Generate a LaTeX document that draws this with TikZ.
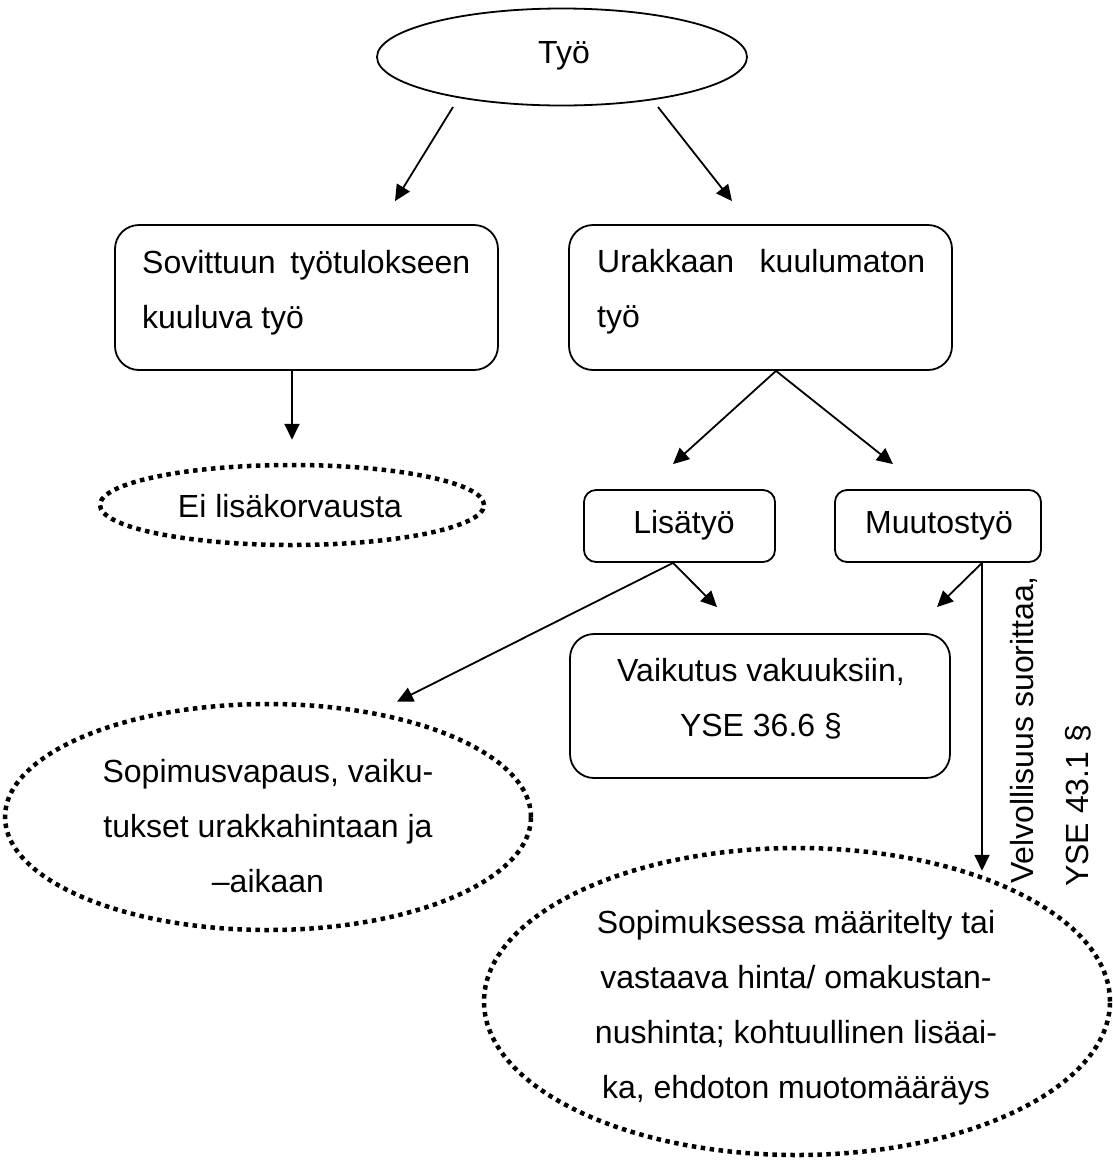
\documentclass[tikz,border=0pt]{standalone}
\usepackage{fontspec}
\setmainfont{Liberation Sans}
\usetikzlibrary{shapes.geometric,arrows.meta,calc}
\begin{document}
\begin{tikzpicture}[x=1pt,y=-1pt,
  every node/.style={inner sep=0pt},
  txt/.style={font=\fontsize{32}{55}\selectfont},
  lw/.style={line width=1.8pt},
  rbox/.style={draw, lw, rounded corners=24pt},
  sbox/.style={draw, lw, rounded corners=12pt},
  oval/.style={draw, lw, ellipse},
  dotoval/.style={draw, ellipse, line width=4.5pt, dash pattern=on 4.5pt off 4.5pt},
  arr/.style={lw, -{Triangle[length=16pt,width=15pt]}},
]
\useasboundingbox (0,0) rectangle (1113,1160);

% shapes
\node[oval, minimum width=370, minimum height=97] (tyo) at (562,57) {};
\node[rbox, minimum width=383, minimum height=145] (sov) at (306.5,297.5) {};
\node[rbox, minimum width=383, minimum height=145] (urak) at (760.5,297.5) {};
\node[dotoval, minimum width=384, minimum height=80] (ei) at (292,505) {};
\node[sbox, minimum width=191, minimum height=72] (lis) at (679.5,526) {};
\node[sbox, minimum width=206, minimum height=72] (muut) at (938,526) {};
\node[rbox, minimum width=380, minimum height=144] (vaik) at (760,706) {};
\node[dotoval, minimum width=526, minimum height=226] (vapaus) at (268,817) {};
\node[dotoval, minimum width=626, minimum height=307] (sopim) at (797,1001.5) {};

% texts (base anchor of a multi-line node = baseline of its last line)
\node[txt, anchor=base] (tyot) at (564,63) {Työ};
\node[txt, anchor=base west, align=left] (sovt) at (142,328)
  {\makebox[328pt][s]{Sovittuun työtulokseen}\\kuuluva työ};
\node[txt, anchor=base west, align=left] (urakt) at (597,327)
  {\makebox[328pt][s]{Urakkaan kuulumaton}\\työ};
\node[txt, anchor=base] (eit) at (290,517) {Ei lisäkorvausta};
\node[txt, anchor=base] (list) at (684,533) {Lisätyö};
\node[txt, anchor=base] (muutt) at (939,533) {Muutostyö};
\node[txt, anchor=base, align=center] (vaikt) at (761,736)
  {Vaikutus vakuuksiin,\\YSE 36.6 §};
\node[txt, anchor=base, align=center] (vapaust) at (268,892)
  {Sopimusvapaus, vaiku-\\tukset urakkahintaan ja\\–aikaan};
\node[txt, anchor=base, align=center] (sopimt) at (796,1098)
  {Sopimuksessa määritelty tai\\vastaava hinta/ omakustan-\\nushinta; kohtuullinen lisäai-\\ka, ehdoton muotomääräys};
\node[txt, rotate=90, anchor=base west] (velv) at (1033,884) {Velvollisuus suorittaa,};
\node[txt, rotate=90, anchor=base west] (yse) at (1088,887) {YSE 43.1 §};

% connectors
\draw[arr] ($(tyo.center)+(-109,50)$) -- ($(sov.north)+(88.5,-23)$);
\draw[arr] ($(tyo.center)+(96,50)$) -- ($(urak.north)+(-28.5,-23)$);
\draw[arr] ($(sov.south)+(-14.5,0)$) -- ($(ei.north)+(0,-23)$);
\draw[arr] ($(urak.south)+(15.5,0)$) -- ($(lis.north)+(-6.5,-25)$);
\draw[arr] ($(urak.south)+(15.5,0)$) -- ($(muut.north)+(-45,-25)$);
\draw[arr] ($(lis.south)+(-6.5,0)$) -- ($(vaik.north)+(-43,-26)$);
\draw[arr] ($(lis.south)+(-6.5,0)$) -- ($(vapaus.north)+(129,0)$);
\draw[arr] ($(muut.south)+(44,0)$) -- ($(vaik.north)+(177,-26)$);
\draw[arr] ($(muut.south)+(44,0)$) -- ($(sopim.north)+(185,25)$);
\end{tikzpicture}
\end{document}
